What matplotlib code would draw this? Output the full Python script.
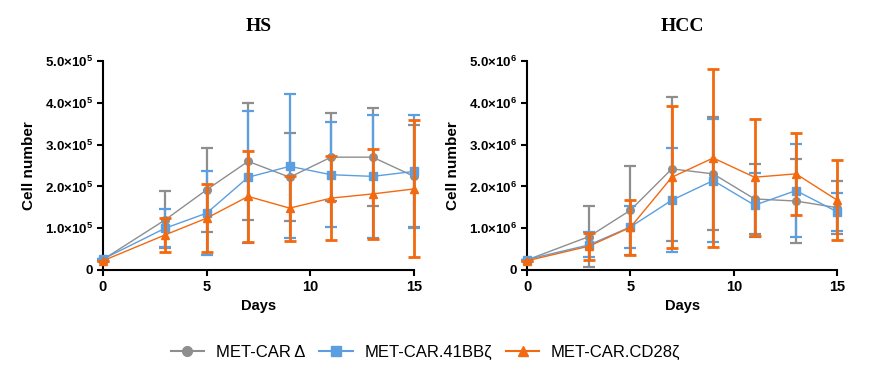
import numpy as np
import matplotlib.pyplot as plt
from matplotlib.lines import Line2D
from matplotlib.ticker import FuncFormatter

plt.rcParams['font.family'] = ['Liberation Sans', 'DejaVu Sans']
plt.rcParams['mathtext.fontset'] = 'custom'
plt.rcParams['mathtext.rm'] = 'Liberation Sans'
plt.rcParams['mathtext.bf'] = 'Liberation Sans:bold'

days = [0, 3, 5, 7, 9, 11, 13, 15]
labels = ['MET-CAR\u2009Δ', 'MET-CAR.41BBζ', 'MET-CAR.CD28ζ']

# HS, units of 1e5 cells
hs_delta = [0.25, 1.20, 1.92, 2.60, 2.22, 2.70, 2.70, 2.24]
hs_delta_err = [0.0, 0.68, 1.00, 1.40, 1.05, 1.06, 1.18, 1.22]
hs_41bb = [0.26, 1.00, 1.36, 2.22, 2.48, 2.28, 2.24, 2.36]
hs_41bb_err = [0.0, 0.45, 1.00, 1.58, 1.72, 1.26, 1.48, 1.36]
hs_cd28 = [0.22, 0.84, 1.24, 1.76, 1.48, 1.72, 1.82, 1.94]
hs_cd28_err = [0.0, 0.40, 0.82, 1.08, 0.78, 1.00, 1.08, 1.64]

# HCC, units of 1e6 cells
hcc_delta = [0.24, 0.80, 1.43, 2.42, 2.30, 1.70, 1.65, 1.49]
hcc_delta_err = [0.0, 0.72, 1.07, 1.72, 1.35, 0.84, 1.00, 0.64]
hcc_41bb = [0.25, 0.60, 1.03, 1.67, 2.14, 1.55, 1.90, 1.39]
hcc_41bb_err = [0.0, 0.30, 0.50, 1.25, 1.47, 0.76, 1.11, 0.45]
hcc_cd28 = [0.22, 0.57, 1.02, 2.22, 2.68, 2.22, 2.30, 1.67]
hcc_cd28_err = [0.0, 0.32, 0.66, 1.70, 2.12, 1.40, 0.98, 0.96]

colors = ['#8e8e8e', '#5b9fe0', '#f2690f']
markers = ['o', 's', '^']
err_lw = [1.6, 1.6, 2.0]

fig = plt.figure(figsize=(8.74, 3.89), dpi=100)
ax1 = fig.add_axes([0.1178, 0.306, 0.356, 0.537])
ax2 = fig.add_axes([0.6030, 0.306, 0.355, 0.537])


def draw(ax, series, errs, title, exp):
    for i, (y, e) in enumerate(zip(series, errs)):
        ax.errorbar(days, y, yerr=e, color=colors[i], marker=markers[i],
                    markersize=5.5, linewidth=1.0, elinewidth=err_lw[i],
                    capsize=4.5, capthick=err_lw[i], clip_on=False, zorder=3 + i)
    ax.set_xlim(0, 15)
    ax.set_ylim(0, 5)
    ax.set_xticks([0, 5, 10, 15])
    ax.set_yticks([0, 1, 2, 3, 4, 5])
    ax.yaxis.set_major_formatter(FuncFormatter(
        lambda v, p: '0' if v == 0 else r'$\mathbf{%.1f{\times}10^{%d}}$' % (v, exp)))
    for s in ['top', 'right']:
        ax.spines[s].set_visible(False)
    for s in ['left', 'bottom']:
        ax.spines[s].set_linewidth(1.5)
    ax.tick_params(width=1.5, length=4, labelsize=9.5)
    for t in ax.get_xticklabels():
        t.set_fontweight('bold')
        t.set_fontsize(10.5)
    for t in ax.get_yticklabels():
        t.set_fontweight('bold')
    ax.set_xlabel('Days', fontweight='bold', fontsize=10.5, labelpad=3)
    ax.set_ylabel('Cell number', fontweight='bold', fontsize=11, labelpad=6)
    ax.set_title(title, family=['Liberation Serif'], fontweight='bold',
                 fontsize=14, pad=22)


draw(ax1, [hs_delta, hs_41bb, hs_cd28], [hs_delta_err, hs_41bb_err, hs_cd28_err], 'HS', 5)
draw(ax2, [hcc_delta, hcc_41bb, hcc_cd28], [hcc_delta_err, hcc_41bb_err, hcc_cd28_err], 'HCC', 6)

handles = [Line2D([], [], color=colors[i], marker=markers[i], markersize=7,
                  linewidth=1.5) for i in range(3)]
fig.legend(handles, labels, loc='center', bbox_to_anchor=(0.487, 0.095), ncol=3,
           frameon=False, fontsize=12, handlelength=2.0, columnspacing=0.85,
           handletextpad=0.7)

fig.savefig('out.png', dpi=100)
